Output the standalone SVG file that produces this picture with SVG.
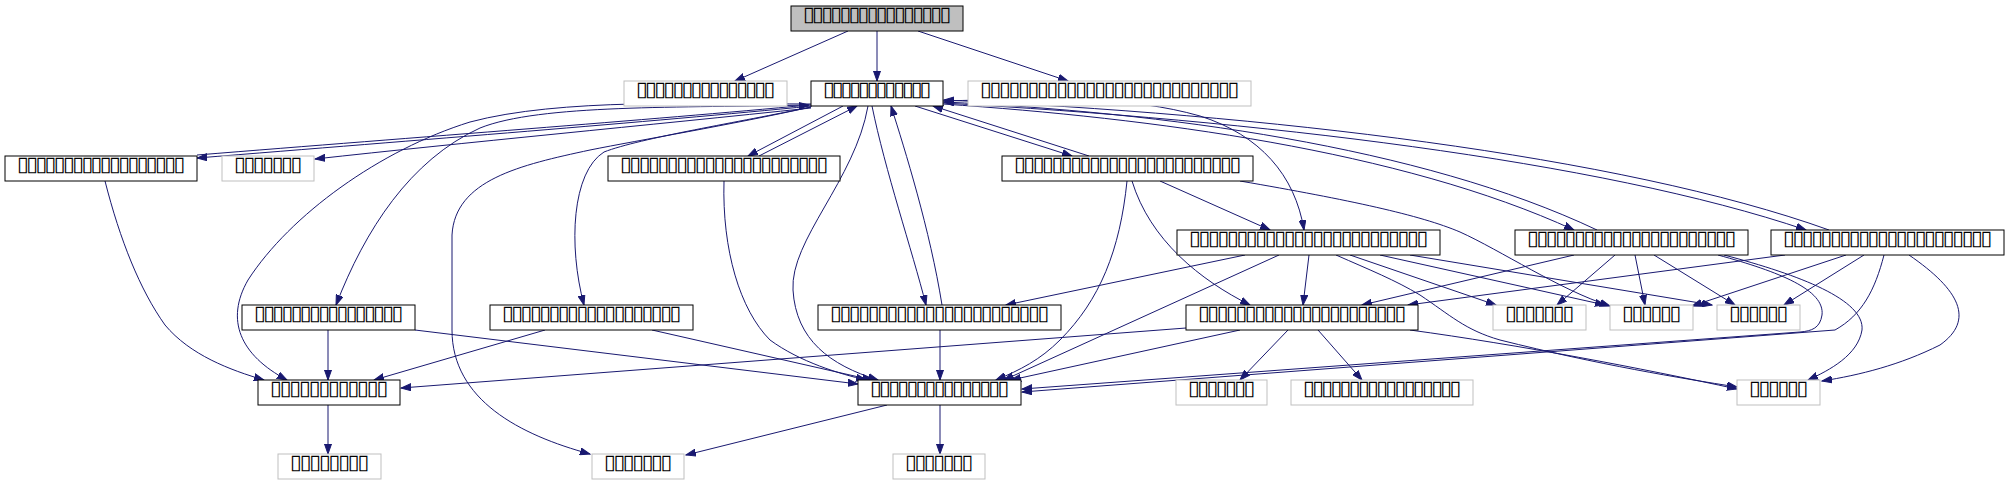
<svg xmlns="http://www.w3.org/2000/svg" width="2009" height="485" viewBox="0 0 2009 485">
<defs>
<style>
.n rect{fill:#fff;stroke:#000;stroke-width:1}
.x rect{fill:#fff;stroke:#bfbfbf;stroke-width:1}
.r rect{fill:#bfbfbf;stroke:#000;stroke-width:1}
text{font-family:"DejaVu Sans","Noto Sans",sans-serif;font-size:21px;fill:#000;text-anchor:middle}
#edges path{fill:none;stroke:#191970;stroke-width:1}
</style>
<marker id="ah" markerUnits="userSpaceOnUse" markerWidth="11" markerHeight="8" viewBox="0 0 11 8" refX="10" refY="4" orient="auto"><path d="M0,0.5 L10,4 L0,7.5 z" fill="#191970" stroke="#191970" stroke-width="1"/></marker>
</defs>
<rect width="2009" height="485" fill="#fff"/>
<g id="edges" marker-end="url(#ah)">
<path d="M848,31 L735,81"/>
<path d="M877,31 L877,81"/>
<path d="M918,31 L1068,81"/>
<path d="M812,106 C650,122 420,140 197,158"/>
<path d="M197,155 C420,137 650,120 809,105"/>
<path d="M811,108 C650,125 460,143 315,159"/>
<path d="M811,104 C700,104 560,98 470,122 C380,150 290,215 248,280 C225,320 240,355 287,380"/>
<path d="M811,105 C680,108 540,104 480,128 C410,160 365,230 336,305"/>
<path d="M811,107 C740,122 640,138 604,152 C572,172 568,245 584,305"/>
<path d="M811,107 C730,125 640,140 590,150 C520,165 455,180 452,235 L452,330 C452,400 520,435 590,454"/>
<path d="M843,106 L748,156"/>
<path d="M759,156 L857,106"/>
<path d="M915,106 L1072,156"/>
<path d="M1089,156 L933,106"/>
<path d="M872,106 C885,170 912,250 926,305"/>
<path d="M942,305 C930,230 905,150 891,106"/>
<path d="M868,106 C855,180 790,240 793,290 C796,340 830,365 878,380"/>
<path d="M943,101 C1050,98 1130,96 1200,116 C1260,135 1295,175 1304,230"/>
<path d="M943,104 C1150,118 1400,150 1574,230"/>
<path d="M1597,230 C1420,146 1160,112 944,102"/>
<path d="M943,103 C1250,120 1600,160 1806,230"/>
<path d="M1829,230 C1620,155 1260,114 944,100"/>
<path d="M724,181 C722,250 740,310 770,340 C800,362 840,374 866,380"/>
<path d="M1160,181 L1270,230"/>
<path d="M1127,181 C1120,250 1100,300 1060,340 C1040,360 1020,370 996,380"/>
<path d="M1132,181 C1150,240 1200,280 1250,305"/>
<path d="M1240,181 C1350,200 1420,215 1460,232 C1500,250 1560,290 1610,306"/>
<path d="M1245,255 L1006,305"/>
<path d="M1279,255 L1004,380"/>
<path d="M1309,255 L1303,305"/>
<path d="M1350,255 L1496,305"/>
<path d="M1380,255 L1605,305"/>
<path d="M1410,255 L1712,305"/>
<path d="M1336,255 C1370,270 1395,280 1420,295 C1450,315 1465,330 1500,340 C1600,365 1680,378 1737,387"/>
<path d="M1574,255 L1362,305"/>
<path d="M1615,255 L1557,305"/>
<path d="M1635,255 L1645,305"/>
<path d="M1654,255 L1735,305"/>
<path d="M1718,255 C1780,272 1825,290 1822,315 C1820,328 1812,331 1800,332 L1022,389"/>
<path d="M1724,255 C1800,275 1865,300 1862,330 C1858,355 1830,370 1808,380"/>
<path d="M1785,255 L1408,305"/>
<path d="M1846,255 L1692,306"/>
<path d="M1864,255 L1784,305"/>
<path d="M1909,255 C1960,290 1975,320 1940,345 C1900,365 1860,375 1822,381"/>
<path d="M1884,255 C1875,290 1862,315 1835,330 L1022,392"/>
<path d="M328,330 L328,380"/>
<path d="M415,330 L858,384"/>
<path d="M545,330 L374,380"/>
<path d="M652,330 L872,380"/>
<path d="M1186,328 L401,388"/>
<path d="M1240,330 L1011,380"/>
<path d="M1288,330 L1240,380"/>
<path d="M1318,330 L1362,380"/>
<path d="M1410,330 C1520,345 1640,368 1737,389"/>
<path d="M940,330 L940,380"/>
<path d="M328,405 L328,454"/>
<path d="M887,405 L686,455"/>
<path d="M940,405 L940,454"/>
<path d="M105,181 C120,240 140,290 165,325 C190,355 230,370 264,380"/>
</g>
<g id="n0" class="r"><rect x="791" y="6" width="172" height="25"/><text x="877" y="21" textLength="148">▯▯▯▯▯▯▯▯▯▯▯▯▯▯▯▯</text></g>
<g id="g1" class="x"><rect x="624" y="81" width="163" height="25"/><text x="705.5" y="96" textLength="139">▯▯▯▯▯▯▯▯▯▯▯▯▯▯▯</text></g>
<g id="n1" class="n"><rect x="811" y="81" width="132" height="25"/><text x="877" y="96" textLength="108">▯▯▯▯▯▯▯▯▯▯▯▯</text></g>
<g id="g2" class="x"><rect x="968" y="81" width="283" height="25"/><text x="1109.5" y="96" textLength="259">▯▯▯▯▯▯▯▯▯▯▯▯▯▯▯▯▯▯▯▯▯▯▯▯▯▯▯</text></g>
<g id="na" class="n"><rect x="5" y="156" width="192" height="25"/><text x="101" y="171" textLength="168">▯▯▯▯▯▯▯▯▯▯▯▯▯▯▯▯▯▯</text></g>
<g id="g3" class="x"><rect x="222" y="156" width="92" height="25"/><text x="268" y="171" textLength="68">▯▯▯▯▯▯▯</text></g>
<g id="nb" class="n"><rect x="608" y="156" width="232" height="25"/><text x="724" y="171" textLength="208">▯▯▯▯▯▯▯▯▯▯▯▯▯▯▯▯▯▯▯▯▯▯</text></g>
<g id="nc" class="n"><rect x="1002" y="156" width="251" height="25"/><text x="1127.5" y="171" textLength="227">▯▯▯▯▯▯▯▯▯▯▯▯▯▯▯▯▯▯▯▯▯▯▯▯</text></g>
<g id="nd" class="n"><rect x="1177" y="230" width="263" height="25"/><text x="1308.5" y="245" textLength="239">▯▯▯▯▯▯▯▯▯▯▯▯▯▯▯▯▯▯▯▯▯▯▯▯▯</text></g>
<g id="ne" class="n"><rect x="1515" y="230" width="233" height="25"/><text x="1631.5" y="245" textLength="209">▯▯▯▯▯▯▯▯▯▯▯▯▯▯▯▯▯▯▯▯▯▯</text></g>
<g id="nf" class="n"><rect x="1771" y="230" width="233" height="25"/><text x="1887.5" y="245" textLength="209">▯▯▯▯▯▯▯▯▯▯▯▯▯▯▯▯▯▯▯▯▯▯</text></g>
<g id="nh" class="n"><rect x="242" y="305" width="173" height="25"/><text x="328.5" y="320" textLength="149">▯▯▯▯▯▯▯▯▯▯▯▯▯▯▯▯</text></g>
<g id="ni" class="n"><rect x="490" y="305" width="203" height="25"/><text x="591.5" y="320" textLength="179">▯▯▯▯▯▯▯▯▯▯▯▯▯▯▯▯▯▯▯</text></g>
<g id="nj" class="n"><rect x="818" y="305" width="243" height="25"/><text x="939.5" y="320" textLength="219">▯▯▯▯▯▯▯▯▯▯▯▯▯▯▯▯▯▯▯▯▯▯▯</text></g>
<g id="nk" class="n"><rect x="1186" y="305" width="232" height="25"/><text x="1302" y="320" textLength="208">▯▯▯▯▯▯▯▯▯▯▯▯▯▯▯▯▯▯▯▯▯▯</text></g>
<g id="g4" class="x"><rect x="1493" y="305" width="93" height="25"/><text x="1539.5" y="320" textLength="69">▯▯▯▯▯▯▯</text></g>
<g id="g5" class="x"><rect x="1610" y="305" width="83" height="25"/><text x="1651.5" y="320" textLength="59">▯▯▯▯▯▯</text></g>
<g id="g6" class="x"><rect x="1717" y="305" width="83" height="25"/><text x="1758.5" y="320" textLength="59">▯▯▯▯▯▯</text></g>
<g id="nl" class="n"><rect x="258" y="380" width="142" height="25"/><text x="329" y="395" textLength="118">▯▯▯▯▯▯▯▯▯▯▯▯</text></g>
<g id="nm" class="n"><rect x="858" y="380" width="163" height="25"/><text x="939.5" y="395" textLength="139">▯▯▯▯▯▯▯▯▯▯▯▯▯▯▯</text></g>
<g id="g7" class="x"><rect x="1176" y="380" width="91" height="25"/><text x="1221.5" y="395" textLength="67">▯▯▯▯▯▯▯</text></g>
<g id="g8" class="x"><rect x="1291" y="380" width="182" height="25"/><text x="1382" y="395" textLength="158">▯▯▯▯▯▯▯▯▯▯▯▯▯▯▯▯▯</text></g>
<g id="g9" class="x"><rect x="1737" y="380" width="83" height="25"/><text x="1778.5" y="395" textLength="59">▯▯▯▯▯▯</text></g>
<g id="g10" class="x"><rect x="278" y="454" width="103" height="25"/><text x="329.5" y="469" textLength="79">▯▯▯▯▯▯▯▯</text></g>
<g id="g11" class="x"><rect x="592" y="454" width="92" height="25"/><text x="638" y="469" textLength="68">▯▯▯▯▯▯▯</text></g>
<g id="g12" class="x"><rect x="893" y="454" width="92" height="25"/><text x="939" y="469" textLength="68">▯▯▯▯▯▯▯</text></g>
</svg>
